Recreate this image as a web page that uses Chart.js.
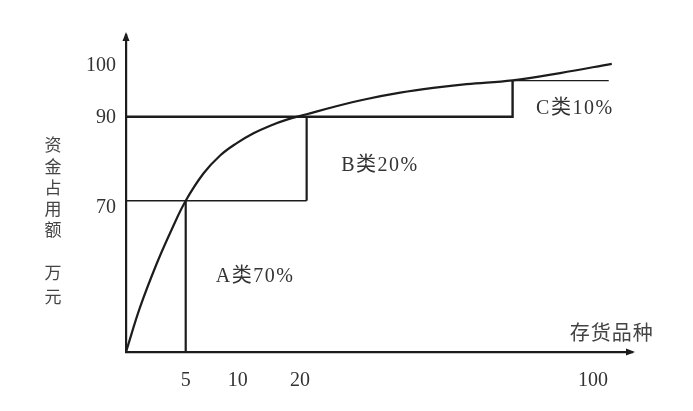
<!DOCTYPE html>
<html><head><meta charset="utf-8">
<script src="https://cdn.jsdelivr.net/npm/chart.js@4.4.0/dist/chart.umd.min.js"></script>
<style>html,body{margin:0;padding:0;background:#fff}#wrap{width:693px;height:411px;position:relative}</style>
</head><body><div id="wrap"><canvas id="c"></canvas></div>
<script>
// Schematic axis units: both axes run 0..100 from the origin to the arrow tip.
const curveX = [0, 2.8, 6.1, 9.1, 11.8, 15.3, 18.6, 21.9, 25.2, 28.5, 31.8, 35.7, 41.0, 47.6, 54.2, 60.7, 67.3, 76.4, 85.8, 96.0];
const curveY = [0, 14.2, 28.0, 38.9, 47.7, 56.3, 62.0, 65.9, 69.0, 71.4, 73.3, 75.0, 77.3, 79.8, 81.8, 83.3, 84.5, 85.7, 88.0, 90.9];
const xTickPos = [11.8, 22.1, 34.4, 92.3];
const xTickLabels = ['5', '10', '20', '100'];
const yTickPos = [90.2, 73.8, 45.4];
const yTickLabels = ['100', '90', '70'];
const boundA = [11.8, 47.7];
const boundB = [35.7, 74.2];
const boundC = [76.4, 85.6];
const cLineEnd = 95.4;
const classLabels = ['A类70%', 'B类20%', 'C类10%'];
const classLabelX = [25.5, 50.2, 88.7];
const classLabelY = [23.7, 58.7, 76.7];
const xTitle = '存货品种';
const xTitleXY = [96.0, 6.3];
const yTitleLines = ['资金占用额', '万元'];

const INK = '#1c1c1c';
const TXT = '#333';
const serif = '"Liberation Serif", "Noto Sans CJK SC", serif';
const cjk = '"Noto Sans CJK SC", sans-serif';

function seg(points, width) {
  return {
    data: points.map(p => ({x: p[0], y: p[1]})),
    borderColor: INK, borderWidth: width, pointRadius: 0, fill: false,
    tension: 0, clip: false
  };
}

const datasets = [
  Object.assign(seg(curveX.map((x, i) => [x, curveY[i]]), 2.2), {tension: 0.4}),
  seg([[0, boundB[1]], [boundC[0], boundB[1]], [boundC[0], boundC[1]]], 2.4),
  seg([[boundB[0], boundB[1]], [boundB[0], boundA[1]]], 2.2),
  seg([[0, boundA[1]], [boundB[0], boundA[1]]], 1.4),
  seg([[boundA[0], boundA[1]], [boundA[0], 0]], 2.2),
  seg([[boundC[0], boundC[1]], [cLineEnd, boundC[1]]], 1.4)
];

const decor = {
  id: 'decor',
  afterDraw(chart) {
    const ctx = chart.ctx, a = chart.chartArea;
    const xs = chart.scales.x, ys = chart.scales.y;
    ctx.save();
    ctx.fillStyle = INK;
    ctx.beginPath();
    ctx.moveTo(a.left, a.top - 3);
    ctx.lineTo(a.left - 3.5, a.top + 6);
    ctx.lineTo(a.left + 3.5, a.top + 6);
    ctx.closePath(); ctx.fill();
    ctx.beginPath();
    ctx.moveTo(a.right + 3, a.bottom);
    ctx.lineTo(a.right - 6, a.bottom - 3.5);
    ctx.lineTo(a.right - 6, a.bottom + 3.5);
    ctx.closePath(); ctx.fill();

    ctx.fillStyle = TXT;
    ctx.textAlign = 'center';
    ctx.textBaseline = 'middle';
    ctx.font = '20px ' + serif;
    ctx.letterSpacing = '1.5px';
    classLabels.forEach((t, i) => {
      ctx.fillText(t, xs.getPixelForValue(classLabelX[i]), ys.getPixelForValue(classLabelY[i]));
    });
    ctx.fillStyle = '#444';
    ctx.font = '20px ' + cjk;
    ctx.letterSpacing = '1px';
    ctx.fillText(xTitle, xs.getPixelForValue(xTitleXY[0]), ys.getPixelForValue(xTitleXY[1]));
    ctx.letterSpacing = '0px';
    ctx.font = '17px ' + cjk;
    const tx = a.left - 73;
    let y = 145;
    [...yTitleLines[0]].forEach(ch => { ctx.fillText(ch, tx, y); y += 21.2; });
    y = 273;
    [...yTitleLines[1]].forEach(ch => { ctx.fillText(ch, tx, y); y += 24; });
    ctx.restore();
  }
};

new Chart(document.getElementById('c'), {
  type: 'line',
  data: {datasets},
  options: {
    responsive: true, maintainAspectRatio: false, animation: false,
    layout: {padding: {top: 35, right: 61, left: 0, bottom: 0}},
    plugins: {legend: {display: false}, tooltip: {enabled: false}},
    scales: {
      x: {
        type: 'linear', min: 0, max: 100,
        grid: {display: false, drawTicks: false},
        border: {display: true, color: INK, width: 2.2},
        afterBuildTicks: s => { s.ticks = xTickPos.map(v => ({value: v})); },
        afterFit: s => { s.height = 59; },
        ticks: {
          autoSkip: false, maxRotation: 0, padding: 17, color: TXT,
          font: {family: serif, size: 20},
          callback: (v, i) => xTickLabels[i]
        }
      },
      y: {
        type: 'linear', min: 0, max: 100,
        grid: {display: false, drawTicks: false},
        border: {display: true, color: INK, width: 2.2},
        afterBuildTicks: s => { s.ticks = yTickPos.map(v => ({value: v})); },
        afterFit: s => { s.width = 126; },
        ticks: {
          autoSkip: false, padding: 10, color: TXT,
          font: {family: serif, size: 20},
          callback: (v, i) => yTickLabels[i]
        }
      }
    }
  },
  plugins: [decor]
});
</script></body></html>
